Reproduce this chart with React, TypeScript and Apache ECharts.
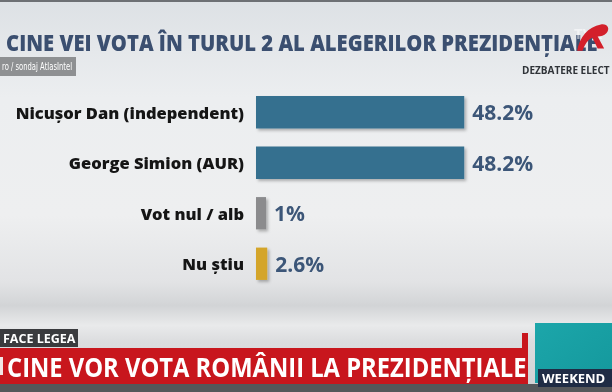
import React, { useEffect, useRef } from "react";
import * as echarts from "echarts";

const categories = ["Nicușor Dan (independent)", "George Simion (AUR)", "Vot nul / alb", "Nu știu"];
const values = [48.2, 48.2, 1, 2.6];
const valueLabels = ["48.2%", "48.2%", "1%", "2.6%"];
const barColors = ["#36708f", "#36708f", "#8b8b8d", "#d4a52a"];

const titleText = "CINE VEI VOTA ÎN TURUL 2 AL ALEGERILOR PREZIDENȚIALE";
const sourceText = "ro / sondaj AtlasIntel";
const showText = "DEZBATERE ELECT";
const tagText = "FACE LEGEA";
const bannerText = "CINE VOR VOTA ROMÂNII LA PREZIDENȚIALE";
const weekendText = "WEEKEND";

echarts.graphic.registerShape(
  "tvrlogo",
  echarts.graphic.extendPath(
    "M2 28 C4 16 12 6 24 4 C30 3 33 8 29 12 C27 14 24 15 21 15 L27 26 L21 26 L16 16 C12 18 9 22 7 28 Z",
    {}
  )
);

export default function App() {
  const ref = useRef<HTMLDivElement>(null);
  useEffect(() => {
    if (!ref.current) return;
    const chart = echarts.init(ref.current, undefined, { renderer: "svg" });
    const data = values.map((v, i) => ({
      value: v,
      itemStyle: { color: barColors[i] },
      label: { formatter: valueLabels[i] },
    }));
    chart.setOption({
      animation: false,
      graphic: [
        {
          type: "rect",
          z: -10,
          silent: true,
          shape: { x: 0, y: 0, width: 612, height: 392 },
          style: {
            fill: new echarts.graphic.LinearGradient(0, 0, 0, 1, [
              { offset: 0, color: "#dde1e5" },
              { offset: 0.25, color: "#eceef0" },
              { offset: 0.55, color: "#eeeff0" },
              { offset: 0.72, color: "#e2e3e5" },
              { offset: 0.78, color: "#d2d4d6" },
              { offset: 0.83, color: "#e9eaeb" },
              { offset: 0.87, color: "#dcdddf" },
              { offset: 1, color: "#cfd0d2" },
            ]),
          },
        },
        { type: "rect", z: -9, shape: { x: 0, y: 0, width: 612, height: 2 }, style: { fill: "#6d7074" } },
        {
          type: "text",
          x: 6,
          y: 42,
          scaleX: 0.92,
          style: {
            text: titleText,
            fill: "#3b4f70",
            font: "800 22px 'Open Sans'",
            verticalAlign: "middle",
          },
        },
        {
          type: "text",
          x: 574,
          y: 33,
          style: { text: "TVR", fill: "rgba(255,255,255,0.55)", font: "bold 15px 'Open Sans'", verticalAlign: "middle" },
        },
        {
          type: "tvrlogo",
          x: 575,
          y: 20,
          scaleX: 1.08,
          scaleY: 1.1,
          style: { fill: "#d3202b" },
        },
        { type: "rect", shape: { x: 0, y: 57, width: 76, height: 19 }, style: { fill: "#8e9092" } },
        {
          type: "text",
          x: 2,
          y: 67,
          scaleX: 0.76,
          style: { text: sourceText, fill: "#ffffff", font: "10px 'DejaVu Sans Condensed'", verticalAlign: "middle" },
        },
        {
          type: "text",
          x: 522,
          y: 70,
          style: { text: showText, fill: "#2f3338", font: "bold 10px 'Open Sans'", verticalAlign: "middle" },
        },
        { type: "rect", shape: { x: 0, y: 329, width: 78, height: 18 }, style: { fill: "#3a3b3e" } },
        {
          type: "text",
          x: 3,
          y: 338,
          style: { text: tagText, fill: "#ffffff", font: "bold 12.5px 'Open Sans'", verticalAlign: "middle" },
        },
        { type: "rect", shape: { x: 522, y: 333, width: 6, height: 20 }, style: { fill: "#c8161d" } },
        { type: "rect", shape: { x: 0, y: 348, width: 528, height: 36 }, style: { fill: "#c8161d" } },
        { type: "rect", shape: { x: 0, y: 357, width: 3, height: 18 }, style: { fill: "#f2e6e6" } },
        {
          type: "text",
          x: 7,
          y: 366,
          scaleX: 0.88,
          style: { text: bannerText, fill: "#ffffff", font: "bold 27px 'Open Sans'", verticalAlign: "middle" },
        },
        { type: "rect", shape: { x: 0, y: 384, width: 612, height: 8 }, style: { fill: "#55575a" } },
        {
          type: "rect",
          shape: { x: 535, y: 323, width: 77, height: 60 },
          style: {
            fill: new echarts.graphic.LinearGradient(0, 0, 1, 1, [
              { offset: 0, color: "#1ca6aa" },
              { offset: 1, color: "#14989c" },
            ]),
          },
        },
        { type: "rect", shape: { x: 538, y: 369, width: 74, height: 18 }, style: { fill: "#1f2c45" } },
        {
          type: "text",
          x: 542,
          y: 378,
          style: { text: weekendText, fill: "#ffffff", font: "bold 13px 'Open Sans'", verticalAlign: "middle" },
        },
      ],
      grid: { left: 256, width: 216, top: 87, bottom: 103, containLabel: false },
      xAxis: {
        type: "value",
        min: 0,
        max: 50,
        show: false,
      },
      yAxis: {
        type: "category",
        data: categories,
        inverse: true,
        axisLine: { show: false },
        axisTick: { show: false },
        splitLine: { show: false },
        axisLabel: {
          margin: 12,
          color: "#151515",
          fontFamily: "Open Sans",
          fontWeight: 800,
          fontSize: 16.5,
        },
      },
      series: [
        {
          type: "bar",
          data,
          barCategoryGap: "36%",
          barMinHeight: 10,
          itemStyle: {
            shadowColor: "rgba(0,0,0,0.28)",
            shadowBlur: 3,
            shadowOffsetX: 2,
            shadowOffsetY: 2,
          },
          label: {
            show: true,
            position: "right",
            distance: 8,
            color: "#3c5678",
            fontFamily: "Open Sans",
            fontWeight: 700,
            fontSize: 21,
          },
        },
      ],
    });
    return () => chart.dispose();
  }, []);
  return <div ref={ref} style={{ position: "fixed", left: 0, top: 0, width: 612, height: 392 }} />;
}
